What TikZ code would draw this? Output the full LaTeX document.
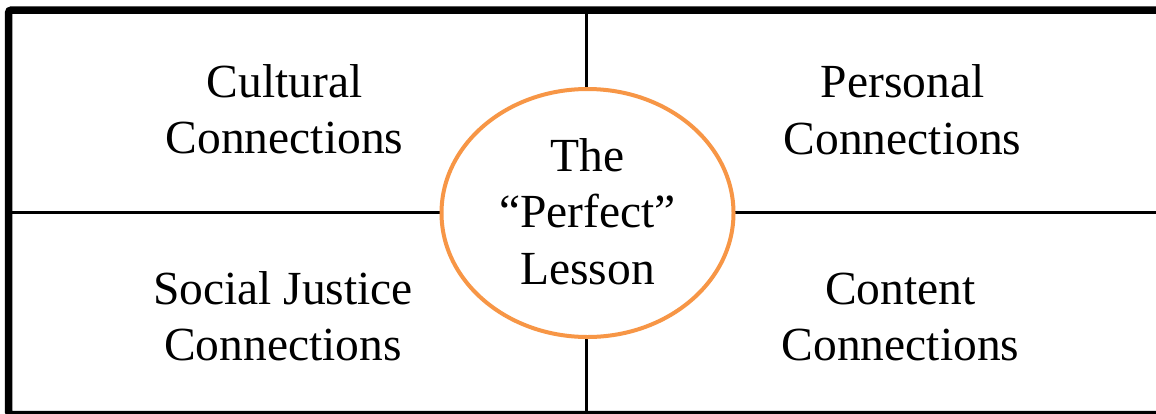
\documentclass[tikz,border=0pt]{standalone}
\usepackage{fontspec}
\setmainfont{Liberation Serif}
\usetikzlibrary{shapes.geometric}
\definecolor{lessonorange}{HTML}{F79646}
\tikzset{
  frame/.style={line width=7.5pt, rounded corners=3pt},
  divider/.style={line width=3pt},
  label/.style={align=center, inner sep=0pt, font=\fontsize{47.5}{56.5}\selectfont},
  lessonellipse/.style={ellipse, draw=lessonorange, line width=4pt, fill=white,
    minimum width=292pt, minimum height=248pt, inner sep=0pt, align=center,
    font=\fontsize{47.5}{56.5}\selectfont}
}
\begin{document}
\begin{tikzpicture}[x=1pt,y=-1pt]
\useasboundingbox (0,0) rectangle (1156,413);
\clip (0,0) rectangle (1156,413);
\fill[white] (0,0) rectangle (1156,413);
% frame
\draw[frame] (1170,10) -- (8.5,10) -- (8.5,414.5) -- (1170,414.5);
% dividers
\coordinate (top) at (586,10);
\coordinate (bottom) at (586,414);
\coordinate (left) at (8.5,212);
\coordinate (right) at (1170,212);
\draw[divider] (top) -- (bottom);
\draw[divider] (left) -- (right);
% labels
\node[label] (cultural) at (284.5,109) {Cultural\\Connections};
\node[label] (personal) at (902.5,109.5) {Personal\\Connections};
\node[label] (social) at (283,316) {Social Justice\\Connections};
\node[label] (content) at (900.5,317) {Content\\Connections};
% ellipse
\node[lessonellipse] (lesson) at (587.5,213) {\raisebox{3pt}{The}\\\raisebox{3pt}{“Perfect”}\\\raisebox{3pt}{Lesson}};
\end{tikzpicture}
\end{document}
